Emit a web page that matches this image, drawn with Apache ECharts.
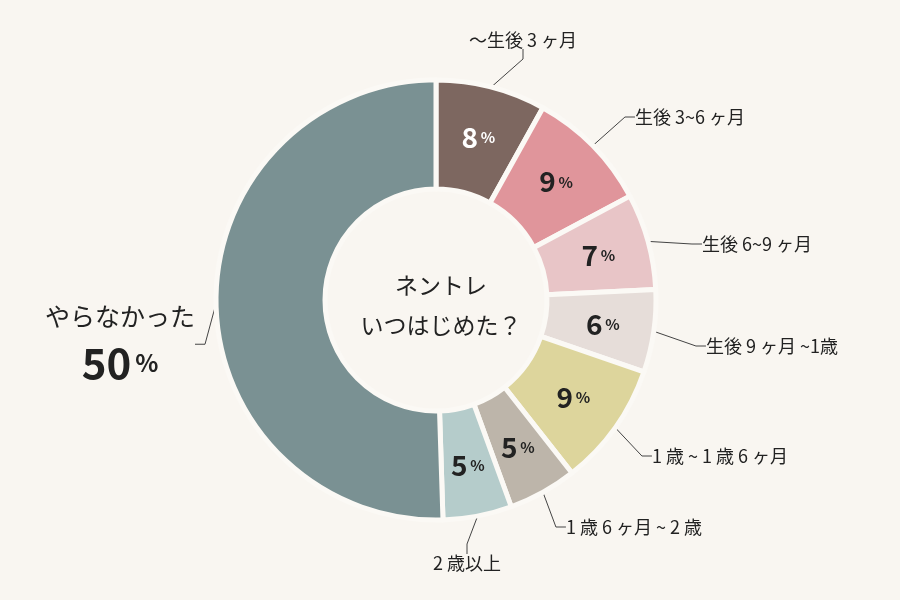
<!DOCTYPE html>
<html><head><meta charset="utf-8">
<script src="https://cdn.jsdelivr.net/npm/echarts@6/dist/echarts.min.js"></script>
<style>html,body{margin:0;background:#f9f6f1}#c{width:900px;height:600px}</style>
</head><body><div id="c"></div>
<script>
var cats = ['～生後 3 ヶ月','生後 3~6 ヶ月','生後 6~9 ヶ月','生後 9 ヶ月 ~1歳','1 歳 ~ 1 歳 6 ヶ月','1 歳 6 ヶ月 ~ 2 歳','2 歳以上','やらなかった'];
var vals = [8, 9, 7, 6, 9, 5, 5, 50];
var colors = ['#7d6760','#e0959b','#e8c5c7','#e6ddd9','#ddd59c','#bdb5aa','#b5cccb','#7a9193'];
// 外側ラベルの位置
var labelPos = [[523,40],[690,117],[757,244],[772,346],[720,456],[634,527],[467,563],[120,338]];

var font = '"Noto Sans CJK JP", sans-serif';
var chart = echarts.init(document.getElementById('c'));

var data = vals.map(function(v,i){ return {name:cats[i], value:v, itemStyle:{color:colors[i]}}; });

chart.setOption({
  backgroundColor:'#f9f6f1',
  animation:false,
  title:{text:'ネントレ\nいつはじめた？', left:436, top:300, textAlign:'center', textVerticalAlign:'middle',
    textStyle:{fontFamily:font, fontSize:23, fontWeight:'normal', color:'#222', lineHeight:40}},
  series:[
    {
      type:'pie', center:[436,300], radius:[111,220], startAngle:90, silent:true,
      itemStyle:{borderColor:'#fbf9f5', borderWidth:5},
      label:{show:true, position:'inside', fontFamily:font,
        formatter:function(p){ return p.dataIndex==7 ? '' : '{n|'+p.value+'} {p|%}'; },
        rich:{n:{fontSize:28, fontWeight:'bold', color:'#222', fontFamily:font},
              p:{fontSize:15, fontWeight:'bold', color:'#222', fontFamily:font}}},
      data:data.map(function(d,i){
        if(i==0) return Object.assign({}, d, {label:{rich:{n:{color:'#fff',fontSize:28,fontWeight:'bold'},p:{color:'#fff',fontSize:15,fontWeight:'bold'}}}});
        return d;
      })
    },
    {
      type:'pie', center:[436,300], radius:[111,220], startAngle:90, silent:true,
      itemStyle:{color:'transparent', borderWidth:0},
      label:{show:true, position:'outside', fontFamily:font, fontSize:18, color:'#222',
        formatter:function(p){ return p.dataIndex==7 ? '{a|やらなかった}\n{b|50} {c|%}' : p.name; },
        rich:{a:{fontSize:25, color:'#222', fontFamily:font, lineHeight:50},
              b:{fontSize:42, fontWeight:'bold', color:'#222', fontFamily:font},
              c:{fontSize:24, fontWeight:'bold', color:'#222', fontFamily:font}}},
      labelLine:{show:true, length:15, length2:10, lineStyle:{color:'#444', width:1}},
      labelLayout:function(p){
        var pos = labelPos[p.dataIndex];
        return {x:pos[0], y:pos[1], align:'center', verticalAlign:'middle'};
      },
      data:vals.map(function(v,i){ return {name:cats[i], value:v}; })
    }
  ]
});
</script></body></html>
